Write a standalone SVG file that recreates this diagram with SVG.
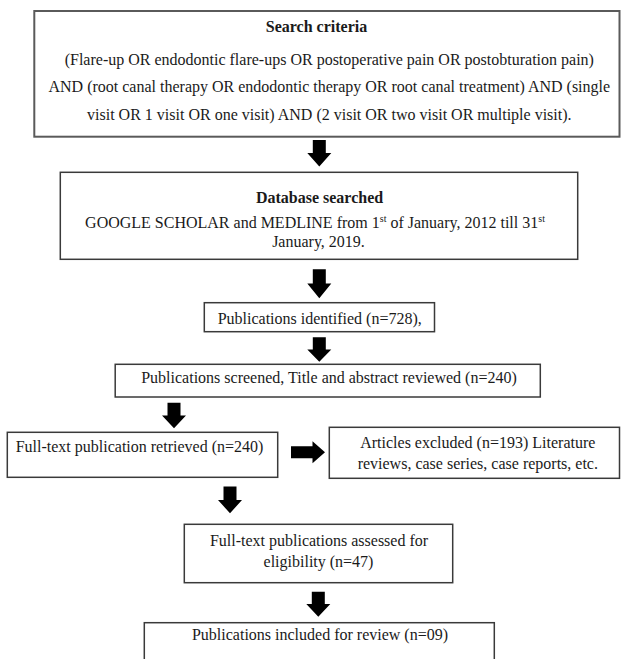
<svg xmlns="http://www.w3.org/2000/svg" width="621" height="659" viewBox="0 0 621 659">
<style>
  .box { fill: #ffffff; stroke: #3a3a3a; stroke-width: 1.5; }
  .box1 { fill: #ffffff; stroke: #5a5a5a; stroke-width: 2; }
  .t { font-family: "Liberation Serif", "Times New Roman", serif; font-size: 16px; fill: #1a1a1a; }
  .c { text-anchor: middle; }
  .b { font-weight: bold; }
  .arrow { fill: #000000; stroke: none; }
</style>
<rect width="621" height="659" fill="#ffffff"/>
<g id="search-criteria">
  <rect class="box1" x="34.3" y="11" width="585.2" height="125.7"/>
  <text class="t c b" x="316.5" y="31.7">Search criteria</text>
  <text class="t c" x="329.3" y="64.5">(Flare-up OR endodontic flare-ups OR postoperative pain OR postobturation pain)</text>
  <text class="t c" x="329.3" y="92.3">AND (root canal therapy OR endodontic therapy OR root canal treatment) AND (single</text>
  <text class="t c" x="329.3" y="120.3">visit OR 1 visit OR one visit) AND (2 visit OR two visit OR multiple visit).</text>
</g>
<g id="database-searched">
  <rect class="box" x="60.3" y="172.3" width="517.4" height="87"/>
  <text class="t c b" x="319.5" y="203">Database searched</text>
  <text class="t c" x="315" y="228.3">GOOGLE SCHOLAR and MEDLINE from 1<tspan font-size="10" dy="-6">st</tspan><tspan dy="6"> of January, 2012 till 31</tspan><tspan font-size="10" dy="-6">st</tspan></text>
  <text class="t c" x="318.5" y="247">January, 2019.</text>
</g>
<g id="identified">
  <rect class="box" x="204.3" y="302.7" width="230.2" height="29"/>
  <text class="t c" x="319.7" y="324">Publications identified (n=728),</text>
</g>
<g id="screened">
  <rect class="box" x="115.2" y="364.3" width="425.1" height="32.7"/>
  <text class="t c" x="329" y="383.3">Publications screened, Title and abstract reviewed (n=240)</text>
</g>
<g id="retrieved">
  <rect class="box" x="7.3" y="432.3" width="270.4" height="45"/>
  <text class="t" x="15.7" y="451.7">Full-text publication retrieved (n=240)</text>
</g>
<g id="excluded">
  <rect class="box" x="329.3" y="427.3" width="290.2" height="51"/>
  <text class="t c" x="477.8" y="448.3">Articles excluded (n=193) Literature</text>
  <text class="t c" x="477.8" y="469.3">reviews, case series, case reports, etc.</text>
</g>
<g id="eligibility">
  <rect class="box" x="184.3" y="524.3" width="268.4" height="58.4"/>
  <text class="t c" x="319" y="545.7">Full-text publications assessed for</text>
  <text class="t c" x="318.5" y="566.7">eligibility (n=47)</text>
</g>
<g id="included">
  <rect class="box" x="144.3" y="622.7" width="350" height="50"/>
  <text class="t c" x="320" y="640">Publications included for review (n=09)</text>
</g>
<g id="connectors">
  <path class="arrow" d="M312.8,140 H325.8 V153 H331.3 L319.3,166.5 L307.3,153 H312.8 Z"/>
  <path class="arrow" d="M312.8,269.3 H325.8 V283.5 H331.3 L319.3,298.3 L307.3,283.5 H312.8 Z"/>
  <path class="arrow" d="M312.8,337.3 H325.8 V349.5 H331.3 L319.3,361.7 L307.3,349.5 H312.8 Z"/>
  <path class="arrow" d="M167.5,402.7 H180.5 V415.5 H186 L174,428.3 L162,415.5 H167.5 Z"/>
  <path class="arrow" d="M223.5,486.5 H236.5 V500 H242 L230,513.3 L218,500 H223.5 Z"/>
  <path class="arrow" d="M311.8,591.7 H324.8 V604 H330.3 L318.3,616.7 L306.3,604 H311.8 Z"/>
  <path class="arrow" d="M291,446.3 H312.5 V441.3 L325,452.3 L312.5,463.3 V458.3 H291 Z"/>
</g>
</svg>
